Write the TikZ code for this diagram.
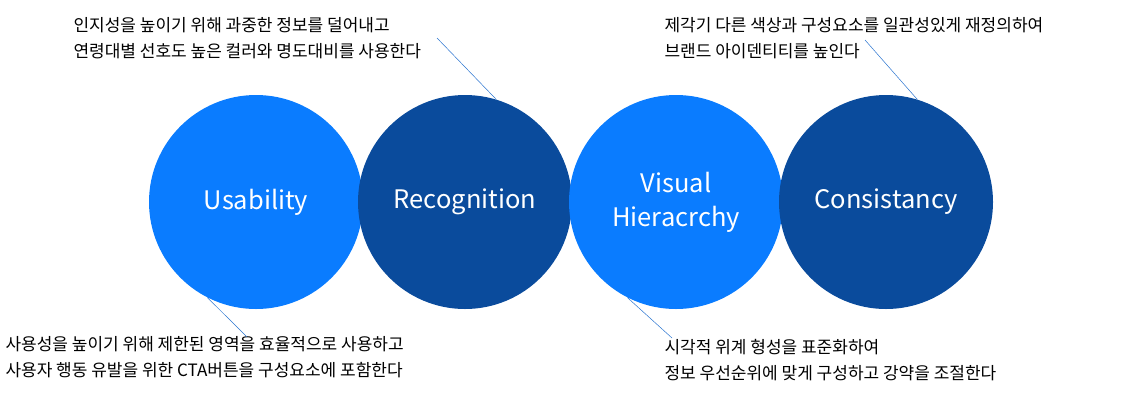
\documentclass[tikz,border=0pt]{standalone}
\usepackage{fontspec}
\setmainfont{Noto Sans CJK KR}
\usetikzlibrary{positioning}
\definecolor{lightblue}{HTML}{0A7CFF}
\definecolor{darkblue}{HTML}{0A4B9C}
\definecolor{leadblue}{HTML}{2A74D0}
\begin{document}
\begin{tikzpicture}[x=1pt,y=-1pt,
  bubble/.style={circle, minimum size=214pt, inner sep=0pt, text=white,
    font=\fontsize{25.5}{34}\selectfont, align=center},
  note/.style={anchor=north west, align=left, font=\fontsize{17}{25.5}\selectfont},
  pointer/.style={leadblue, line width=0.5pt}
]
\useasboundingbox (0,0) rectangle (1142,405);

% circles
\node[bubble, fill=lightblue] (usab) at (256,202) {Usability};
\node[bubble, fill=darkblue] (recog) at (465,202) {Recognition};
\node[bubble, fill=lightblue] (visual) at (676,202) {Visual\\Hieracrchy};
\node[bubble, fill=darkblue] (consis) at (886,202) {Consistancy};

% notes
\node[note] (recognote) at (70,14) {인지성을 높이기 위해 과중한 정보를 덜어내고\\연령대별 선호도 높은 컬러와 명도대비를 사용한다};
\node[note] (consisnote) at (661,14) {제각기 다른 색상과 구성요소를 일관성있게 재정의하여\\브랜드 아이덴티티를 높인다};
\node[note] (usabnote) at (2,333) {사용성을 높이기 위해 제한된 영역을 효율적으로 사용하고\\사용자 행동 유발을 위한 CTA버튼을 구성요소에 포함한다};
\node[note] (visualnote) at (661,336) {시각적 위계 형성을 표준화하여\\정보 우선순위에 맞게 구성하고 강약을 조절한다};

% pointers
\coordinate (a1) at (437,38);
\coordinate (a2) at (865,40);
\coordinate (a3) at (247,337);
\coordinate (a4) at (672,338);
\draw[pointer] (a1) -- (recog.73);
\draw[pointer] (a2) -- (consis.73);
\draw[pointer] (a3) -- (usab.-117);
\draw[pointer] (a4) -- (visual.-117);
\end{tikzpicture}
\end{document}
